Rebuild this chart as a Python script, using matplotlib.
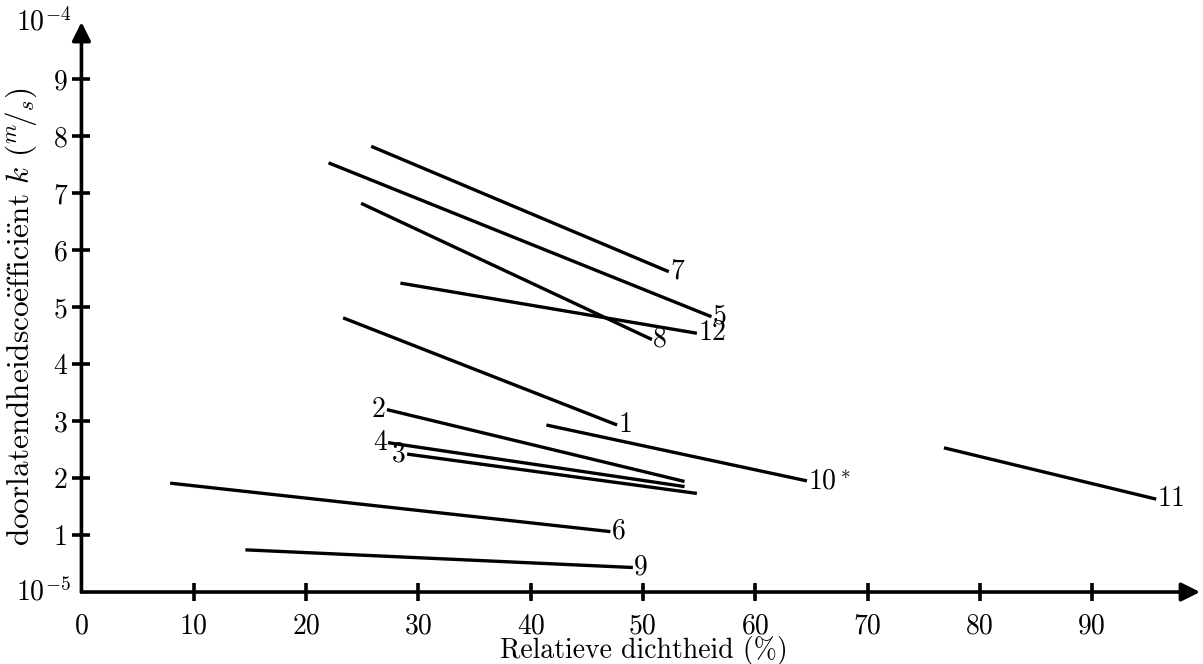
import matplotlib
matplotlib.use("Agg")
import matplotlib.pyplot as plt

plt.rcParams["font.family"] = "serif"
plt.rcParams["font.serif"] = ["cmr10", "DejaVu Serif"]
plt.rcParams["mathtext.fontset"] = "cm"
plt.rcParams["axes.unicode_minus"] = False

# Data: each series is a straight line from (x_start, y_start) to (x_end, y_end)
names = ["1", "2", "3", "4", "5", "6", "7", "8", "9", "10$^*$", "11", "12"]
x_start = [23.3, 27.2, 29.0, 27.3, 22.0, 7.9, 25.8, 24.9, 14.6, 41.4, 76.8, 28.4]
y_start = [4.81, 3.20, 2.42, 2.62, 7.53, 1.91, 7.82, 6.82, 0.74, 2.93, 2.53, 5.42]
x_end = [47.7, 53.7, 54.8, 53.7, 56.1, 47.1, 52.3, 50.8, 49.1, 64.6, 95.7, 54.8]
y_end = [2.93, 1.94, 1.73, 1.85, 4.83, 1.06, 5.62, 4.43, 0.43, 1.95, 1.63, 4.54]
# series labelled at the left (start) end of their line
left_labelled = ["2", "3", "4"]

x_ticks = [0, 10, 20, 30, 40, 50, 60, 70, 80, 90]
y_ticks = [1, 2, 3, 4, 5, 6, 7, 8, 9]

fig = plt.figure(figsize=(12.03, 6.64), dpi=100)
ax = fig.add_axes([0.0677, 0.1084, 0.9298, 0.8584])
ax.set_xlim(0, 99.6)
ax.set_ylim(0, 10)

for sp in ax.spines.values():
    sp.set_visible(False)

# axes with arrow heads
arrow = dict(arrowstyle="-|>", lw=2.6, color="black", mutation_scale=28,
             shrinkA=0, shrinkB=0)
ax.annotate("", xy=(1.0, 0), xytext=(0, 0), xycoords="axes fraction",
            arrowprops=arrow, annotation_clip=False)
ax.annotate("", xy=(0, 1.0), xytext=(0, 0), xycoords="axes fraction",
            arrowprops=arrow, annotation_clip=False)

fs = 20
for i, name in enumerate(names):
    ax.plot([x_start[i], x_end[i]], [y_start[i], y_end[i]], color="black",
            lw=2.4, solid_capstyle="butt")
    if name in left_labelled:
        ax.annotate(name, (x_start[i], y_start[i]), xytext=(-1, 0),
                    textcoords="offset points", ha="right", va="center",
                    fontsize=fs)
    else:
        ax.annotate(name, (x_end[i], y_end[i]), xytext=(1, 0),
                    textcoords="offset points", ha="left", va="center",
                    fontsize=fs)

ax.set_xticks(x_ticks)
ax.set_xticklabels([str(t) for t in x_ticks])
ax.set_yticks(y_ticks)
ax.set_yticklabels([str(t) for t in y_ticks])
ax.tick_params(axis="both", direction="inout", length=13, width=2.6,
               labelsize=fs)
ax.tick_params(axis="x", pad=9)
ax.tick_params(axis="y", pad=3.5)
# the origin tick at x=0 is not drawn as a tick mark in the reference
ax.xaxis.get_major_ticks()[0].tick1line.set_visible(False)

ax.text(-0.9, 0, "$10^{-5}$", ha="right", va="center", fontsize=fs)
ax.text(-0.9, 10, "$10^{-4}$", ha="right", va="center", fontsize=fs)

fig.text(0.535, 0.021, "Relatieve dichtheid (%)", ha="center", va="center",
         fontsize=fs)
fig.text(0.018, 0.523,
         r"doorlatendheidsco$\ddot{\mathrm{e}}$ffici$\ddot{\mathrm{e}}$nt $k$ $(^m\!/_s)$",
         rotation=90, ha="center", va="center", fontsize=22.5)

fig.savefig("out.png", dpi=100)
